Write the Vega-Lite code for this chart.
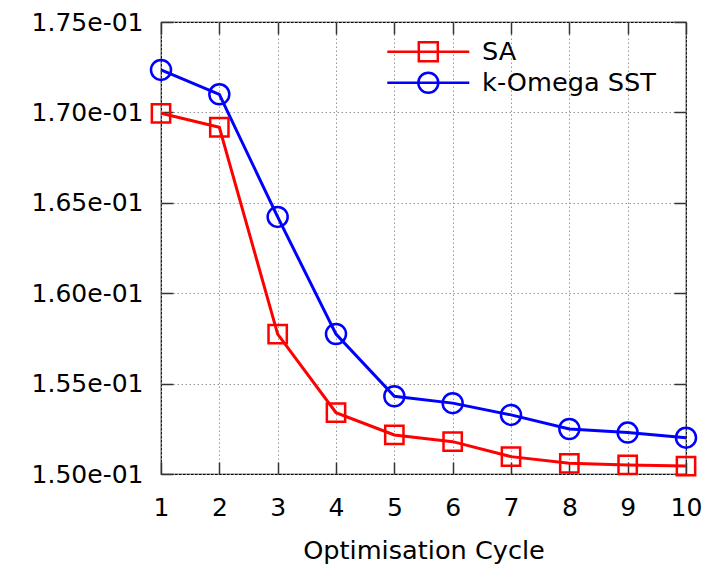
{
  "$schema": "https://vega.github.io/schema/vega-lite/v6.json",
  "width": 525,
  "height": 452,
  "autosize": "none",
  "padding": {"left": 161, "top": 22, "right": 31, "bottom": 93},
  "background": "white",
  "config": {
    "view": {"stroke": "black", "strokeWidth": 1.2},
    "font": "DejaVu Sans",
    "axis": {"ticks": true, "tickOpacity": 1, "tickDash": []}
  },
  "data": {
    "values": [
      {"cycle": 1, "model": "SA", "value": 0.16995},
      {"cycle": 2, "model": "SA", "value": 0.16918},
      {"cycle": 3, "model": "SA", "value": 0.15774},
      {"cycle": 4, "model": "SA", "value": 0.15339},
      {"cycle": 5, "model": "SA", "value": 0.15216},
      {"cycle": 6, "model": "SA", "value": 0.15179},
      {"cycle": 7, "model": "SA", "value": 0.15096},
      {"cycle": 8, "model": "SA", "value": 0.15059},
      {"cycle": 9, "model": "SA", "value": 0.1505},
      {"cycle": 10, "model": "SA", "value": 0.15044},
      {"cycle": 1, "model": "k-Omega SST", "value": 0.17235},
      {"cycle": 2, "model": "k-Omega SST", "value": 0.171},
      {"cycle": 3, "model": "k-Omega SST", "value": 0.16422},
      {"cycle": 4, "model": "k-Omega SST", "value": 0.15774},
      {"cycle": 5, "model": "k-Omega SST", "value": 0.1543},
      {"cycle": 6, "model": "k-Omega SST", "value": 0.15392},
      {"cycle": 7, "model": "k-Omega SST", "value": 0.15327},
      {"cycle": 8, "model": "k-Omega SST", "value": 0.15249},
      {"cycle": 9, "model": "k-Omega SST", "value": 0.15229},
      {"cycle": 10, "model": "k-Omega SST", "value": 0.15201}
    ]
  },
  "layer": [
    {
      "mark": {"type": "line", "strokeWidth": 3},
      "encoding": {
        "x": {
          "field": "cycle", "type": "quantitative",
          "scale": {"domain": [1, 10], "nice": false, "zero": false},
          "axis": {
            "orient": "bottom", "values": [1, 2, 3, 4, 5, 6, 7, 8, 9, 10], "format": "d",
            "offset": -12,
            "title": "Optimisation Cycle", "titleFont": "DejaVu Sans", "titleFontSize": 25.6,
            "titleFontWeight": "normal", "titleColor": "black", "titlePadding": 18,
            "labelFont": "DejaVu Sans", "labelFontSize": 25, "labelColor": "black",
            "labelPadding": 21, "labelFlush": false, "labelOverlap": false,
            "ticks": true, "tickSize": 12, "tickColor": "#333", "tickWidth": 1.5, "tickDash": [],
            "domain": false,
            "grid": true, "gridColor": "#999", "gridDash": [1.5, 2.5], "gridWidth": 1
          }
        },
        "y": {
          "field": "value", "type": "quantitative",
          "scale": {"domain": [0.15, 0.175], "nice": false, "zero": false},
          "axis": {
            "orient": "left", "values": [0.15, 0.155, 0.16, 0.165, 0.17, 0.175],
            "offset": -12,
            "labelExpr": "replace(format(datum.value, '.2e'), 'e-1', 'e-01')",
            "title": null,
            "labelFont": "DejaVu Sans", "labelFontSize": 25, "labelColor": "black",
            "labelPadding": 18, "labelFlush": false, "labelOverlap": false,
            "ticks": true, "tickSize": 12, "tickColor": "#333", "tickWidth": 1.5, "tickDash": [],
            "domain": false,
            "grid": true, "gridColor": "#999", "gridDash": [1.5, 2.5], "gridWidth": 1
          }
        },
        "color": {
          "field": "model", "type": "nominal",
          "scale": {"domain": ["SA", "k-Omega SST"], "range": ["#ff0000", "#0000ff"]},
          "legend": null
        }
      }
    },
    {
      "mark": {"type": "point", "filled": false, "strokeWidth": 2.5, "opacity": 1},
      "encoding": {
        "x": {
          "field": "cycle", "type": "quantitative",
          "axis": {
            "orient": "top", "values": [1, 2, 3, 4, 5, 6, 7, 8, 9, 10],
            "offset": -12,
            "labels": false, "title": null, "domain": false, "grid": false,
            "ticks": true, "tickSize": 12, "tickColor": "#333", "tickWidth": 1.5, "tickDash": []
          }
        },
        "y": {
          "field": "value", "type": "quantitative",
          "axis": {
            "orient": "right", "values": [0.15, 0.155, 0.16, 0.165, 0.17, 0.175],
            "offset": -12,
            "labels": false, "title": null, "domain": false, "grid": false,
            "ticks": true, "tickSize": 12, "tickColor": "#333", "tickWidth": 1.5, "tickDash": []
          }
        },
        "color": {
          "field": "model", "type": "nominal",
          "scale": {"domain": ["SA", "k-Omega SST"], "range": ["#ff0000", "#0000ff"]},
          "legend": null
        },
        "shape": {
          "field": "model", "type": "nominal",
          "scale": {"domain": ["SA", "k-Omega SST"], "range": ["square", "circle"]},
          "legend": null
        },
        "size": {
          "field": "model", "type": "nominal",
          "scale": {"domain": ["SA", "k-Omega SST"], "range": [335, 400]},
          "legend": null
        }
      }
    },
    {
      "transform": [{"filter": "datum.cycle < 0"}],
      "mark": {"type": "point", "filled": false, "strokeWidth": 2.5, "opacity": 1, "size": 400},
      "encoding": {
        "color": {
          "field": "model", "type": "nominal",
          "scale": {"domain": ["SA", "k-Omega SST"], "range": ["#ff0000", "#0000ff"]},
          "legend": {
            "orient": "none", "legendX": 254.5, "legendY": 17, "title": null,
            "labelFont": "DejaVu Sans", "labelFontSize": 25.6, "labelColor": "black", "labelLimit": 400,
            "symbolSize": 400, "rowPadding": 0, "labelOffset": 41,
            "symbolStrokeWidth": 2.5, "padding": 0, "symbolOpacity": 1
          }
        },
        "shape": {
          "field": "model", "type": "nominal",
          "scale": {
            "domain": ["SA", "k-Omega SST"],
            "range": [
              "M-4.1,0H4.1M-0.95,-0.95H0.95V0.95H-0.95Z",
              "M-4.1,0H4.1M1,0A1,1 0 1,0 -1,0A1,1 0 1,0 1,0Z"
            ]
          },
          "legend": null
        }
      }
    }
  ],
  "resolve": {
    "axis": {"x": "independent", "y": "independent"},
    "scale": {"shape": "independent"},
    "legend": {"color": "independent", "shape": "independent"}
  }
}
